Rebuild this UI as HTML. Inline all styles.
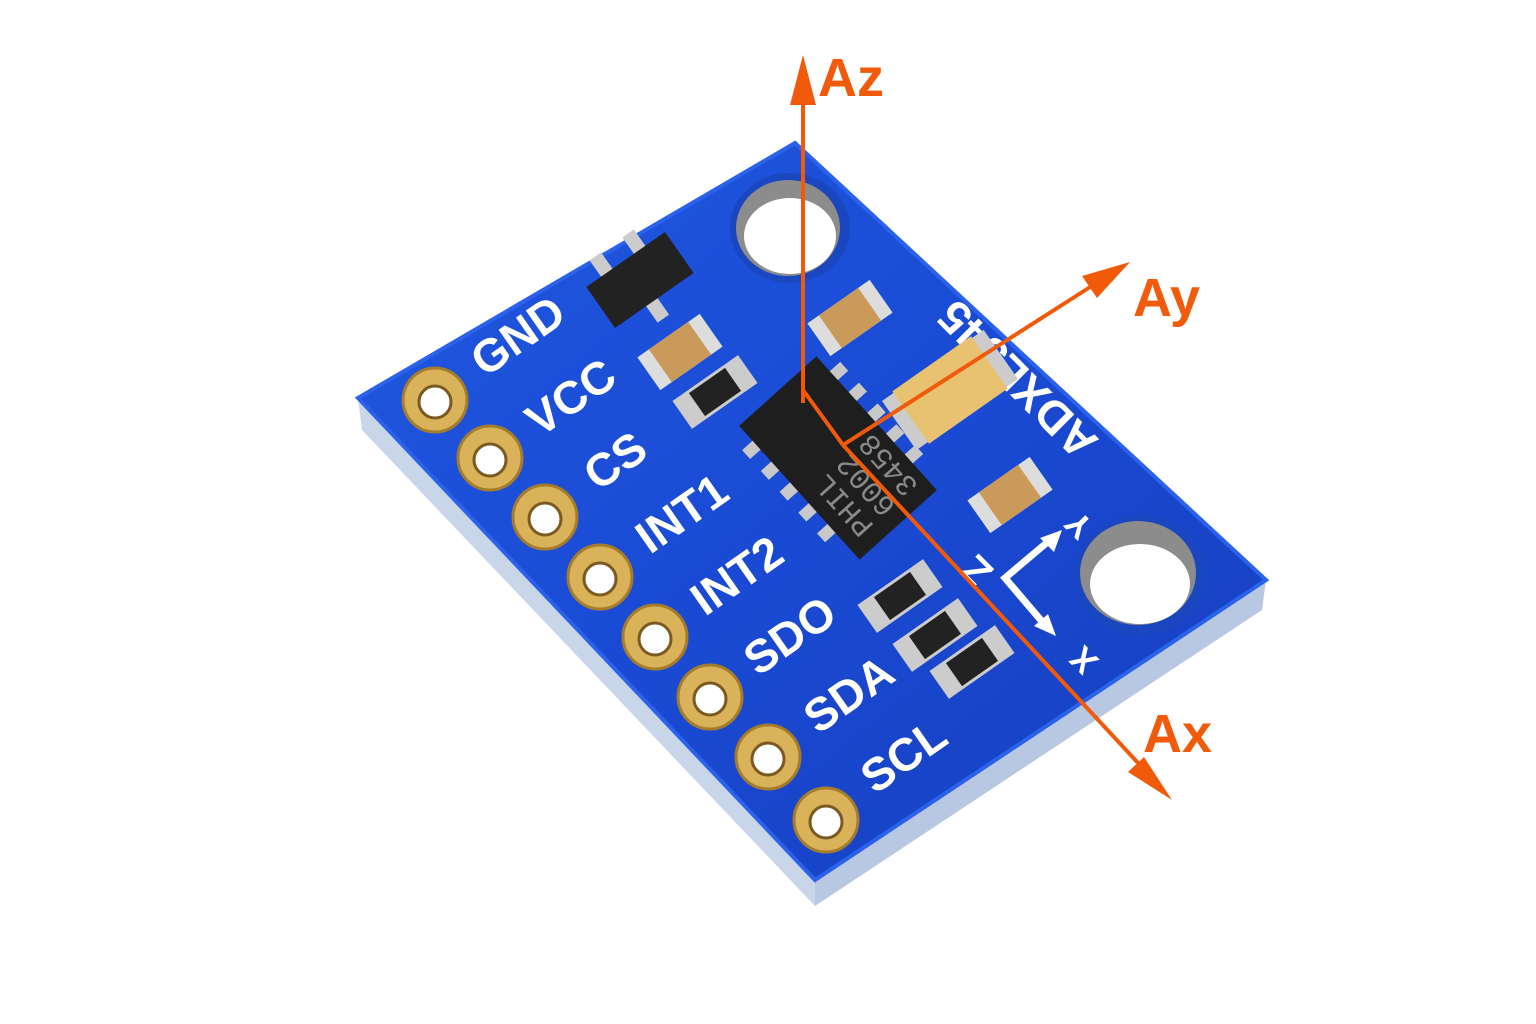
<!DOCTYPE html>
<html><head><meta charset="utf-8"><style>
html,body{margin:0;padding:0;background:#fff;width:1536px;height:1024px;overflow:hidden}
svg{display:block}
.lbl{font-family:"Liberation Sans",sans-serif;font-weight:bold;fill:#fff;font-size:46px}
.ax{font-family:"Liberation Sans",sans-serif;font-weight:bold;fill:#f05a0a;font-size:54px}
</style></head><body>
<svg width="1536" height="1024" viewBox="0 0 1536 1024">
<defs>
<linearGradient id="bd" x1="0" y1="0" x2="1" y2="1">
<stop offset="0" stop-color="#2058e0"/><stop offset="0.5" stop-color="#1a4ad4"/><stop offset="1" stop-color="#163ebc"/>
</linearGradient>
</defs>
<polygon points="358,398 815,880 815,906 362,430" fill="#c9d6ea"/>
<polygon points="815,880 1266,580 1262,610 815,906" fill="#b9c8e2"/>
<polygon points="795,143 1266,580 815,880 358,398" fill="url(#bd)"/>
<polygon points="795,143 1266,580 815,880 358,398" fill="none" stroke="#2b62ec" stroke-width="4"/>
<ellipse cx="790" cy="228" rx="60" ry="55" fill="#1a46c0"/>
<ellipse cx="788" cy="228" rx="52" ry="48" fill="#8c8c8c"/>
<ellipse cx="790" cy="236" rx="46" ry="38" fill="#fff"/>
<ellipse cx="1140" cy="575" rx="66" ry="60" fill="#1a46c0"/>
<ellipse cx="1138" cy="573" rx="58" ry="52" fill="#8c8c8c"/>
<ellipse cx="1140" cy="584" rx="50" ry="40" fill="#fff"/>
<g fill="#d9b25a" stroke="#a47c2c" stroke-width="3">
<circle cx="435" cy="400" r="32"/><circle cx="490" cy="458" r="32"/><circle cx="545" cy="517" r="32"/><circle cx="600" cy="577" r="32"/>
<circle cx="655" cy="637" r="32"/><circle cx="710" cy="697" r="32"/><circle cx="768" cy="757" r="32"/><circle cx="826" cy="820" r="32"/>
</g>
<g fill="#fff" stroke="#7a5a20" stroke-width="3">
<circle cx="435" cy="402" r="16"/><circle cx="490" cy="460" r="16"/><circle cx="545" cy="519" r="16"/><circle cx="600" cy="579" r="16"/>
<circle cx="655" cy="639" r="16"/><circle cx="710" cy="699" r="16"/><circle cx="768" cy="759" r="16"/><circle cx="826" cy="822" r="16"/>
</g>
<g class="lbl">
<text transform="translate(485,378) rotate(-35)">GND</text>
<text transform="translate(540,438) rotate(-35)">VCC</text>
<text transform="translate(598,492) rotate(-35)">CS</text>
<text transform="translate(650,555) rotate(-35)">INT1</text>
<text transform="translate(705,617) rotate(-35)">INT2</text>
<text transform="translate(758,677) rotate(-35)">SDO</text>
<text transform="translate(818,735) rotate(-35)">SDA</text>
<text transform="translate(875,795) rotate(-35)">SCL</text>
<text transform="translate(1100,440) rotate(-135)" font-size="46">ADXL345</text>
<text transform="translate(995,570) rotate(-135)" font-size="40">Z</text>
<text transform="translate(1095,525) rotate(-135)" font-size="34">Y</text>
<text transform="translate(1100,660) rotate(-135)" font-size="34">X</text>
</g>
<g stroke="#fff" stroke-width="7" fill="none"><polyline points="1050,540 1005,578 1045,625"/></g>
<g fill="#fff"><polygon points="1062,530 1040,538 1054,552"/><polygon points="1056,636 1034,626 1048,614"/></g>
<g transform="translate(640,280) rotate(-35)">
<rect x="-30" y="-45" width="14" height="22" fill="#ccc"/><rect x="10" y="-45" width="14" height="22" fill="#ccc"/><rect x="-10" y="23" width="14" height="22" fill="#ccc"/>
<rect x="-48" y="-25" width="96" height="50" fill="#222"/></g>
<g transform="translate(680,352) rotate(-35)"><rect x="-38" y="-20" width="76" height="40" fill="#ddd"/><rect x="-24" y="-20" width="48" height="40" fill="#c99a5a"/></g>
<g transform="translate(850,318) rotate(-35)"><rect x="-38" y="-20" width="76" height="40" fill="#ddd"/><rect x="-24" y="-20" width="48" height="40" fill="#c99a5a"/></g>
<g transform="translate(1010,495) rotate(-35)"><rect x="-38" y="-20" width="76" height="40" fill="#ddd"/><rect x="-24" y="-20" width="48" height="40" fill="#c99a5a"/></g>
<g transform="translate(950,390) rotate(-35)"><rect x="-62" y="-30" width="124" height="60" fill="#ccc"/><rect x="-48" y="-32" width="96" height="64" fill="#e8c270"/></g>
<g fill="#ccc"><g transform="translate(715,392) rotate(-35)"><rect x="-40" y="-17" width="80" height="34"/><rect x="-22" y="-14" width="44" height="28" fill="#222"/></g>
<g transform="translate(900,596) rotate(-35)"><rect x="-40" y="-17" width="80" height="34"/><rect x="-22" y="-14" width="44" height="28" fill="#222"/></g>
<g transform="translate(935,635) rotate(-35)"><rect x="-40" y="-17" width="80" height="34"/><rect x="-22" y="-14" width="44" height="28" fill="#222"/></g>
<g transform="translate(972,662) rotate(-35)"><rect x="-40" y="-17" width="80" height="34"/><rect x="-22" y="-14" width="44" height="28" fill="#222"/></g></g>
<g transform="translate(838,458) rotate(48)">
<g fill="#c8c8c8"><rect x="-70" y="-66" width="12" height="16"/><rect x="-42" y="-66" width="12" height="16"/><rect x="-14" y="-66" width="12" height="16"/><rect x="14" y="-66" width="12" height="16"/><rect x="42" y="-66" width="12" height="16"/>
<rect x="-70" y="50" width="12" height="16"/><rect x="-42" y="50" width="12" height="16"/><rect x="-14" y="50" width="12" height="16"/><rect x="14" y="50" width="12" height="16"/><rect x="42" y="50" width="12" height="16"/></g>
<rect x="-90" y="-52" width="180" height="104" fill="#1e1e1e"/>
<g fill="#8a8a8a" font-family="Liberation Mono,monospace" font-size="30" transform="rotate(180)">
<text x="-75" y="-18">PHIL</text><text x="-75" y="12">6002</text><text x="-75" y="42">3458</text></g></g>
<g stroke="#f05a0a" stroke-width="4" fill="none">
<line x1="803" y1="403" x2="803" y2="95"/>
<line x1="803" y1="390" x2="843" y2="445"/>
<line x1="843" y1="445" x2="1098" y2="282"/>
<line x1="843" y1="445" x2="1152" y2="778"/>
</g>
<g fill="#f05a0a">
<polygon points="803,55 790,105 816,105"/>
<polygon points="1130,262 1082,276 1097,298"/>
<polygon points="1172,800 1144,757 1128,772"/>
</g>
<text class="ax" x="818" y="96">Az</text>
<text class="ax" x="1133" y="316">Ay</text>
<text class="ax" x="1143" y="752">Ax</text>
</svg>
</body></html>
